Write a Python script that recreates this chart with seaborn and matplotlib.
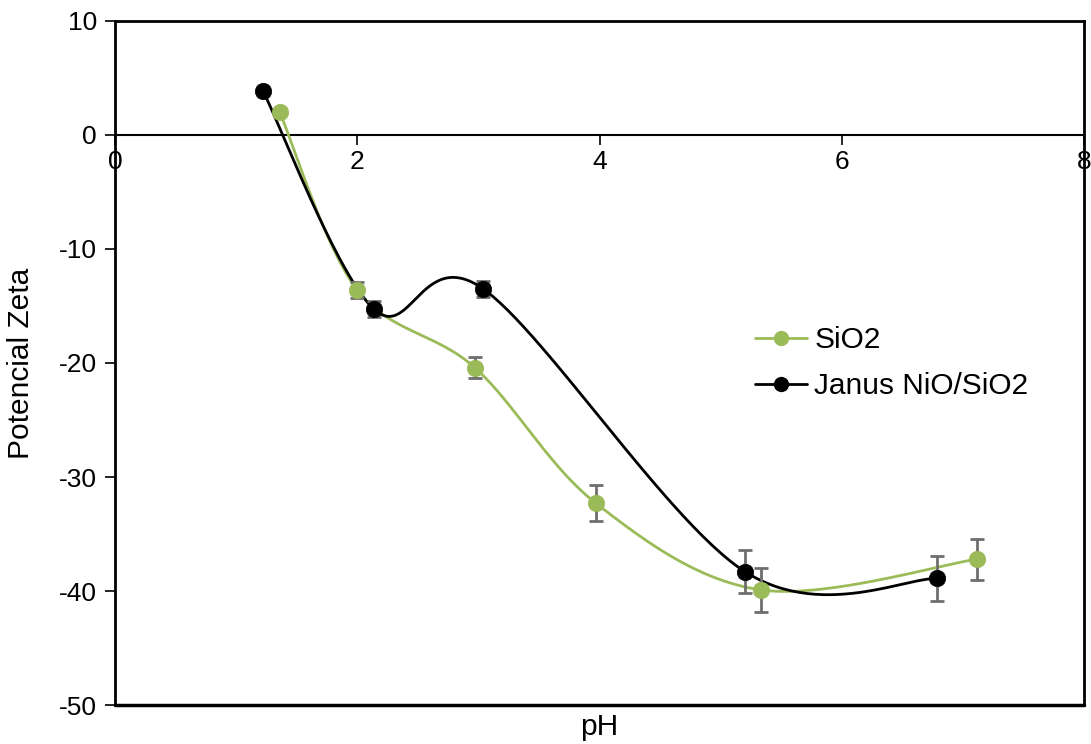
import numpy as np
import pandas as pd
import matplotlib
matplotlib.use("Agg")
import matplotlib.pyplot as plt
from matplotlib.lines import Line2D
import seaborn as sns

# Zeta potential vs pH
ph_sio2 = [1.36, 2.00, 2.97, 3.97, 5.33, 7.12]
zeta_sio2 = [2.0, -13.6, -20.4, -32.3, -39.9, -37.2]
err_sio2 = [0.0, 0.7, 0.95, 1.6, 1.95, 1.8]

ph_janus = [1.22, 2.14, 3.04, 5.20, 6.79]
zeta_janus = [3.9, -15.3, -13.5, -38.3, -38.9]
err_janus = [0.0, 0.7, 0.7, 1.9, 2.0]

labels = ["SiO2", "Janus NiO/SiO2"]
colors = ["#9bbb59", "#000000"]

x_ticks = [0, 2, 4, 6, 8]
y_ticks = [-50, -40, -30, -20, -10, 0, 10]


def smooth_curve(xs, ys, n=60, t=1.0 / 6.0):
    """Cubic Bezier smoothing through every point (cardinal spline)."""
    p = np.column_stack([xs, ys]).astype(float)
    pts = np.vstack([p[0], p, p[-1]])
    out = []
    for i in range(1, len(pts) - 2):
        p0, p1, p2, p3 = pts[i - 1], pts[i], pts[i + 1], pts[i + 2]
        c1 = p1 + (p2 - p0) * t
        c2 = p2 - (p3 - p1) * t
        s = np.linspace(0, 1, n)[:, None]
        seg = ((1 - s) ** 3) * p1 + 3 * ((1 - s) ** 2) * s * c1 + 3 * (1 - s) * s ** 2 * c2 + s ** 3 * p2
        out.append(seg if i == 1 else seg[1:])
    out = np.vstack(out)
    return out[:, 0], out[:, 1]


sns.set_theme(style="white")
plt.rcParams["font.family"] = ["Liberation Sans", "DejaVu Sans"]

FS_TICK = 19
FS_TEXT = 21.5

fig = plt.figure(figsize=(10.91, 7.44), dpi=100)
ax = fig.add_axes([0.1054, 0.0524, 0.8882, 0.9194])

series = [
    (ph_sio2, zeta_sio2, err_sio2, labels[0], colors[0]),
    (ph_janus, zeta_janus, err_janus, labels[1], colors[1]),
]

for xs, ys, es, lab, col in series:
    sx, sy = smooth_curve(xs, ys)
    curve = pd.DataFrame({"pH": sx, "zeta": sy})
    sns.lineplot(data=curve, x="pH", y="zeta", ax=ax, color=col, lw=2.0,
                 sort=False, estimator=None, zorder=3)
    xe = [x for x, e in zip(xs, es) if e > 0]
    ye = [y for y, e in zip(ys, es) if e > 0]
    ee = [e for e in es if e > 0]
    ax.errorbar(xe, ye, yerr=ee, fmt="none", ecolor="#6e6e6e", elinewidth=2.0,
                capsize=5, capthick=2.0, zorder=4)
    pts = pd.DataFrame({"pH": xs, "zeta": ys})
    sns.scatterplot(data=pts, x="pH", y="zeta", ax=ax, color=col, s=140,
                    edgecolor=col, linewidth=0.5, zorder=5)

# x axis crossing at zero; frame drawn around the plot area
for side in ["left", "right", "top"]:
    ax.spines[side].set_color("black")
    ax.spines[side].set_linewidth(2)
ax.spines["bottom"].set_position(("data", 0))
ax.spines["bottom"].set_color("black")
ax.spines["bottom"].set_linewidth(1.5)
ax.plot([0, 1], [0, 0], transform=ax.transAxes, color="black", lw=2.5, clip_on=False)

ax.set_xlim(0, 8)
ax.set_ylim(-50, 10)
ax.set_xticks(x_ticks)
ax.set_yticks(y_ticks)
ax.set_xticklabels([str(v) for v in x_ticks])
ax.set_yticklabels([str(v) for v in y_ticks])

ax.tick_params(axis="both", direction="out", length=7, width=1.2, colors="black",
               labelsize=FS_TICK, bottom=True, left=True)
ax.tick_params(axis="x", pad=4)
ax.tick_params(axis="y", pad=6)

ax.set_xlabel("pH", fontsize=FS_TEXT, color="black")
ax.set_ylabel("Potencial Zeta", fontsize=FS_TEXT, color="black")
ax.xaxis.set_label_coords(0.5, -0.012)
ax.yaxis.set_label_coords(-0.083, 0.5)

handles = [Line2D([], [], color=c, lw=2, marker="o", markersize=10) for c in colors]
leg = ax.legend(handles, labels, loc="center left", bbox_to_anchor=(0.66, 0.50),
                frameon=False, fontsize=FS_TEXT, handlelength=1.75, handletextpad=0.25,
                labelspacing=0.6, borderpad=0, borderaxespad=0)
for txt in leg.get_texts():
    txt.set_color("black")

fig.savefig("out.png", dpi=100)
